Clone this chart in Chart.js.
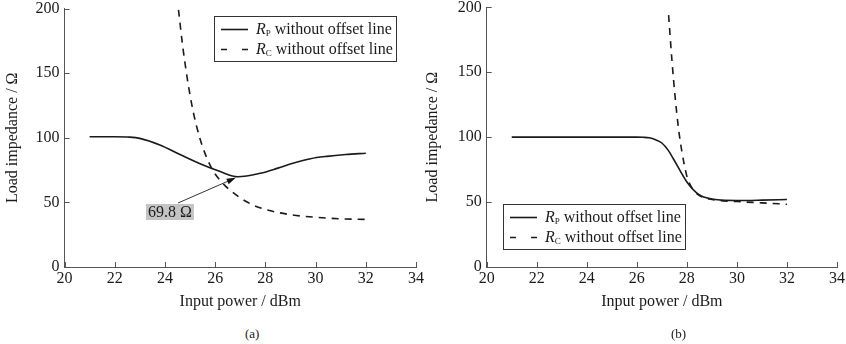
<!DOCTYPE html>
<html>
<head>
<meta charset="utf-8">
<title>Load impedance versus input power</title>
<script src="https://cdn.jsdelivr.net/npm/chart.js@4/dist/chart.umd.min.js"></script>
<style>
    body { margin: 0; background: #fff; }
    #figure {
        position: relative;
        width: 846px;
        height: 344px;
        overflow: hidden;
        font-family: 'Liberation Serif', 'Times New Roman', serif;
    }
    .panel { position: absolute; top: 0; }
    .caption { position: absolute; top: 326px; font-size: 13px; color: #1a1a1a; }
</style>
</head>
<body>
<div id="figure">
    <div class="panel" style="left: 0;"><canvas id="chartA" width="440" height="320"></canvas></div>
    <div class="panel" style="left: 420px;"><canvas id="chartB" width="426" height="320"></canvas></div>
    <div class="caption" style="left: 245px;">(a)</div>
    <div class="caption" style="left: 671px;">(b)</div>
</div>
<script>
// Axis ticks
const powerTicks = [20, 22, 24, 26, 28, 30, 32, 34];
const loadTicks = [0, 50, 100, 150, 200];

// (a) R_P without offset line
const rpPowerA = [21, 22, 22.6, 23, 23.8, 24.6, 25.4, 26.2, 26.9, 27.8, 28.5, 29.1, 29.8, 30.45, 31.2, 32];
const rpLoadA = [100.8, 100.8, 100.5, 99.5, 94.4, 87, 79.8, 73.8, 69.8, 72.5, 76.5, 80.3, 83.8, 85.6, 87, 88];

// (a) R_C without offset line
const rcPowerA = [24.54, 24.7, 24.85, 25.0, 25.15, 25.3, 25.5, 25.7, 25.93, 26.2, 26.5, 27, 27.5, 28, 29, 30, 31, 32];
const rcLoadA = [199, 172, 151, 133, 118, 106, 93, 83, 74, 67, 61, 53.5, 48, 44.5, 40.5, 38.5, 37.3, 36.8];

// (b) R_P without offset line
const rpPowerB = [21, 22, 23, 24, 25, 26, 26.25, 26.5, 26.75, 27, 27.25, 27.5, 28, 28.5, 29, 29.5, 30, 31, 32];
const rpLoadB = [100, 100, 100, 100, 100, 100, 99.9, 99.5, 98, 95.5, 90, 82, 65.5, 55.5, 52.3, 51.3, 51.2, 51.5, 52];

// (b) R_C without offset line
const rcPowerB = [27.27, 27.4, 27.53, 27.67, 27.8, 28, 28.2, 28.5, 29, 30, 31, 32];
const rcLoadB = [194, 160, 131, 106, 89, 70, 61, 55, 52, 50.4, 49.4, 48.3];

// Marked minimum of R_P in (a)
const minPointA = { power: 26.9, load: 69.8, text: '69.8 Ω' };

const FONT_FAMILY = "'Liberation Serif', 'Times New Roman', serif";
const TEXT_COLOR = '#1a1a1a';
const AXIS_COLOR = '#555';
const LINE_COLOR = '#1a1a1a';
const DASH = [7, 6];

function drawLegend(ctx, box) {
    ctx.save();
    ctx.strokeStyle = '#333';
    ctx.lineWidth = 1;
    ctx.strokeRect(box.left + 0.5, box.top + 0.5, 182, 45);

    const rows = [
        { sub: 'P', dash: [] },
        { sub: 'C', dash: [6, 15] }
    ];
    rows.forEach((row, i) => {
        const cy = box.top + 13.5 + i * 20;
        ctx.strokeStyle = LINE_COLOR;
        ctx.lineWidth = 1.6;
        ctx.setLineDash(row.dash);
        ctx.beginPath();
        ctx.moveTo(box.left + 7, cy);
        ctx.lineTo(box.left + 34, cy);
        ctx.stroke();
        ctx.setLineDash([]);

        ctx.fillStyle = TEXT_COLOR;
        ctx.textBaseline = 'middle';
        ctx.textAlign = 'left';
        let tx = box.left + 42;
        ctx.font = 'italic 16px ' + FONT_FAMILY;
        ctx.fillText('R', tx, cy);
        tx += ctx.measureText('R').width;
        ctx.font = '9px ' + FONT_FAMILY;
        ctx.fillText(row.sub, tx, cy + 4);
        tx += ctx.measureText(row.sub).width + 4;
        ctx.font = '16px ' + FONT_FAMILY;
        ctx.fillText('without offset line', tx, cy);
    });
    ctx.restore();
}

function drawMarker(ctx, chart, marker) {
    const xs = chart.scales.x;
    const ys = chart.scales.y;
    const tipX = xs.getPixelForValue(marker.power) - 2;
    const tipY = ys.getPixelForValue(marker.load) + 1;
    const lx = marker.labelLeft;
    const ly = marker.labelTop;

    ctx.save();
    ctx.font = '16px ' + FONT_FAMILY;
    const w = ctx.measureText(marker.text).width + 4;
    ctx.fillStyle = '#c4c4c4';
    ctx.fillRect(lx, ly, w, 16);
    ctx.fillStyle = TEXT_COLOR;
    ctx.textBaseline = 'middle';
    ctx.fillText(marker.text, lx + 2, ly + 8.5);

    // arrow from the label up to the minimum
    const fromX = lx + 32;
    const fromY = ly - 1;
    const ang = Math.atan2(tipY - fromY, tipX - fromX);
    ctx.strokeStyle = '#333';
    ctx.lineWidth = 1;
    ctx.beginPath();
    ctx.moveTo(fromX, fromY);
    ctx.lineTo(tipX - 8 * Math.cos(ang), tipY - 8 * Math.sin(ang));
    ctx.stroke();
    ctx.fillStyle = '#111';
    ctx.beginPath();
    ctx.moveTo(tipX, tipY);
    ctx.lineTo(tipX - 9 * Math.cos(ang) + 3 * Math.sin(ang), tipY - 9 * Math.sin(ang) - 3 * Math.cos(ang));
    ctx.lineTo(tipX - 9 * Math.cos(ang) - 3 * Math.sin(ang), tipY - 9 * Math.sin(ang) + 3 * Math.cos(ang));
    ctx.closePath();
    ctx.fill();
    ctx.restore();
}

// inward tick marks, boxed legend and the arrow label
const figureExtras = {
    id: 'figureExtras',
    afterDatasetsDraw(chart, args, opts) {
        const ctx = chart.ctx;
        const xs = chart.scales.x;
        const ys = chart.scales.y;
        ctx.save();
        ctx.strokeStyle = AXIS_COLOR;
        ctx.lineWidth = 1;
        xs.ticks.forEach(t => {
            const px = Math.round(xs.getPixelForValue(t.value)) + 0.5;
            ctx.beginPath();
            ctx.moveTo(px, ys.bottom);
            ctx.lineTo(px, ys.bottom - 5);
            ctx.stroke();
        });
        ys.ticks.forEach(t => {
            const py = Math.round(ys.getPixelForValue(t.value)) + 0.5;
            ctx.beginPath();
            ctx.moveTo(xs.left, py);
            ctx.lineTo(xs.left + 5, py);
            ctx.stroke();
        });
        ctx.restore();

        if (opts.legendBox) drawLegend(ctx, opts.legendBox);
        if (opts.marker) drawMarker(ctx, chart, opts.marker);
    }
};

function toPoints(xs, ys) {
    return xs.map((x, i) => ({ x: x, y: ys[i] }));
}

function buildChart(canvasId, series, layout, extras) {
    const datasets = series.map(s => ({
        label: s.label,
        data: toPoints(s.power, s.load),
        showLine: true,
        borderColor: LINE_COLOR,
        borderWidth: 1.6,
        borderDash: s.dashed ? DASH : [],
        pointRadius: 0,
        fill: false,
        cubicInterpolationMode: 'monotone'
    }));

    const tickFont = { family: FONT_FAMILY, size: 16, lineHeight: 1 };

    return new Chart(document.getElementById(canvasId), {
        type: 'scatter',
        data: { datasets: datasets },
        options: {
            responsive: false,
            animation: false,
            events: [],
            layout: { padding: layout.padding },
            plugins: {
                legend: { display: false },
                tooltip: { enabled: false },
                figureExtras: extras
            },
            scales: {
                x: {
                    type: 'linear',
                    min: powerTicks[0],
                    max: powerTicks[powerTicks.length - 1],
                    afterBuildTicks: scale => {
                        scale.ticks = powerTicks.map(v => ({ value: v }));
                    },
                    ticks: { color: TEXT_COLOR, font: tickFont, padding: 4, maxRotation: 0 },
                    grid: { drawOnChartArea: false, drawTicks: false },
                    border: { display: true, color: AXIS_COLOR, width: 1 },
                    title: {
                        display: true,
                        text: 'Input power / dBm',
                        color: TEXT_COLOR,
                        font: { family: FONT_FAMILY, size: 16, lineHeight: 1 },
                        padding: { top: 0, bottom: 10 }
                    },
                    afterFit: scale => {
                        scale.height = layout.xHeight;
                        scale.paddingLeft = 0;
                        scale.paddingRight = 0;
                    }
                },
                y: {
                    type: 'linear',
                    min: loadTicks[0],
                    max: loadTicks[loadTicks.length - 1],
                    afterBuildTicks: scale => {
                        scale.ticks = loadTicks.map(v => ({ value: v }));
                    },
                    ticks: { color: TEXT_COLOR, font: tickFont, padding: 5 },
                    grid: { drawOnChartArea: false, drawTicks: false },
                    border: { display: true, color: AXIS_COLOR, width: 1 },
                    title: {
                        display: true,
                        text: 'Load impedance / Ω',
                        color: TEXT_COLOR,
                        font: { family: FONT_FAMILY, size: 16, lineHeight: 1 },
                        padding: { top: 5, bottom: 0 }
                    },
                    afterFit: scale => {
                        scale.width = layout.yWidth;
                        scale.paddingTop = 0;
                        scale.paddingBottom = 0;
                    }
                }
            }
        },
        plugins: [figureExtras]
    });
}

buildChart('chartA', [
    { label: 'R_P without offset line', power: rpPowerA, load: rpLoadA, dashed: false },
    { label: 'R_C without offset line', power: rcPowerA, load: rcLoadA, dashed: true }
], {
    padding: { left: 0, top: 8.5, right: 24, bottom: 0 },
    yWidth: 64.5,
    xHeight: 53
}, {
    legendBox: { left: 214, top: 16 },
    marker: {
        power: minPointA.power,
        load: minPointA.load,
        text: minPointA.text,
        labelLeft: 146,
        labelTop: 204
    }
});

buildChart('chartB', [
    { label: 'R_P without offset line', power: rpPowerB, load: rpLoadB, dashed: false },
    { label: 'R_C without offset line', power: rcPowerB, load: rcLoadB, dashed: true }
], {
    padding: { left: 0, top: 7.3, right: 9, bottom: 0 },
    yWidth: 66.7,
    xHeight: 53
}, {
    legendBox: { left: 83, top: 204 }
});
</script>
</body>
</html>
